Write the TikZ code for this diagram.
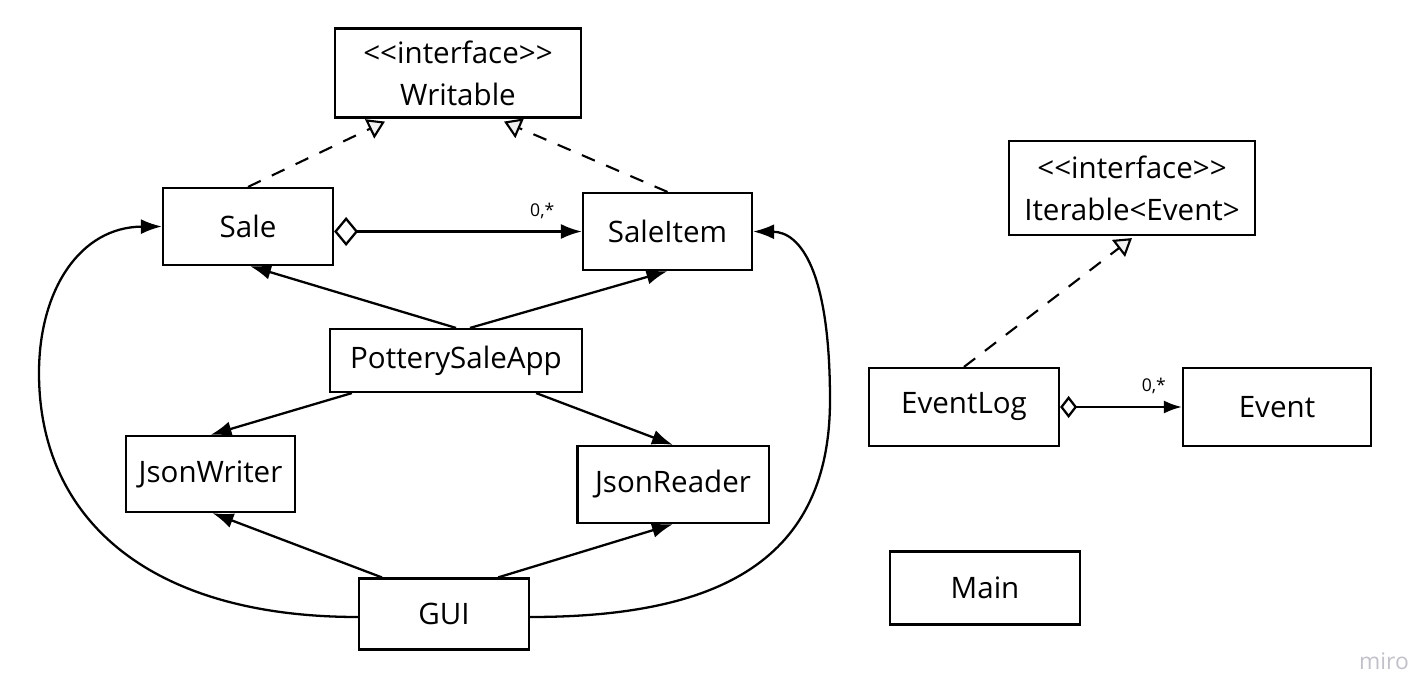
\documentclass[tikz,border=0pt]{standalone}
\usepackage{fontspec}
\setmainfont{Open Sans}
\usetikzlibrary{arrows.meta}

\begin{document}
\begin{tikzpicture}[
    x=0.01cm, y=-0.01cm,
    font=\fontsize{8.4pt}{11.9pt}\selectfont,
    cls/.style={draw, line width=0.6pt, align=center, inner sep=0pt,
        minimum width=1.7cm, minimum height=0.77cm},
    uses/.style={-{Latex[length=0.21cm, width=0.15cm]}, line width=0.65pt},
    realizes/.style={-{Triangle[open, length=0.17cm, width=0.21cm, fill=gray!12]},
        dashed, dash pattern=on 4pt off 3.5pt, line width=0.6pt},
    mult/.style={font=\fontsize{5pt}{6pt}\selectfont, above},
]
\useasboundingbox (0,0) rectangle (1426,700);

% Interfaces
\node[cls, minimum width=2.46cm, minimum height=0.89cm] (writable) at (458,73)
    {{<}{<}interface{>}{>}\\Writable};
\node[cls, minimum width=2.45cm, minimum height=0.94cm] (iterable) at (1132,188)
    {{<}{<}interface{>}{>}\\Iterable{<}Event{>}};

% Classes
\node[cls] (sale) at (248,226.5) {Sale};
\node[cls, minimum width=1.69cm] (saleitem) at (667.5,231.5) {SaleItem};
\node[cls, minimum width=2.52cm, minimum height=0.63cm] (app) at (456,360.5) {PotterySaleApp};
\node[cls, minimum width=1.69cm, minimum height=0.76cm] (writer) at (210.5,474) {JsonWriter};
\node[cls, minimum width=1.91cm] (reader) at (673,484.5) {JsonReader};
\node[cls, minimum width=1.7cm, minimum height=0.71cm] (gui) at (444,614) {GUI};
\node[cls, minimum width=1.9cm, minimum height=0.78cm] (eventlog) at (964,407) {EventLog};
\node[cls, minimum width=1.88cm, minimum height=0.78cm] (event) at (1277,407) {Event};
\node[cls, minimum width=1.9cm, minimum height=0.73cm] (main) at (985,588) {Main};

% Realization
\draw[realizes] (sale.north) -- ([xshift=-0.73cm, yshift=-0.03cm]writable.south);
\draw[realizes] (saleitem.north) -- ([xshift=0.46cm, yshift=-0.03cm]writable.south);
\draw[realizes] (eventlog.north) -- ([yshift=-0.02cm]iterable.south);

% Aggregation
\draw[uses, {Diamond[open, length=0.24cm, width=0.29cm]}-{Latex[length=0.21cm, width=0.15cm]}]
    (sale.east |- saleitem.west) -- (saleitem.west) node[mult, pos=0.84] {0,*};
\draw[uses, {Diamond[open, length=0.17cm, width=0.22cm]}-{Latex[length=0.18cm, width=0.13cm]}]
    (eventlog.east) -- (event.west) node[mult, pos=0.77] {0,*};

% Dependencies
\draw[uses] (app.north) -- ([xshift=0.02cm]sale.south);
\draw[uses] ([xshift=0.14cm]app.north) -- (saleitem.south);
\draw[uses] ([xshift=0.23cm]app.south west) -- (writer.north);
\draw[uses] ([xshift=-0.47cm]app.south east) -- (reader.north);
\draw[uses] ([xshift=0.24cm]gui.north west) -- ([xshift=0.02cm]writer.south);
\draw[uses] ([xshift=-0.32cm]gui.north east) -- (reader.south);
\draw[uses] ([yshift=-0.03cm]gui.west) .. controls (150,617) and (39,520) .. (39,373)
    .. controls (39,290) and (80,227) .. (sale.west);
\draw[uses] ([yshift=-0.03cm]gui.east) .. controls (720,617) and (830,560) .. (830,400)
    .. controls (830,270) and (800,232) .. (saleitem.east);

% Watermark
\node[text=blue!8!gray!45, font=\fontsize{6.5pt}{8pt}\selectfont] (miro) at (1384,661) {miro};

\end{tikzpicture}
\end{document}
